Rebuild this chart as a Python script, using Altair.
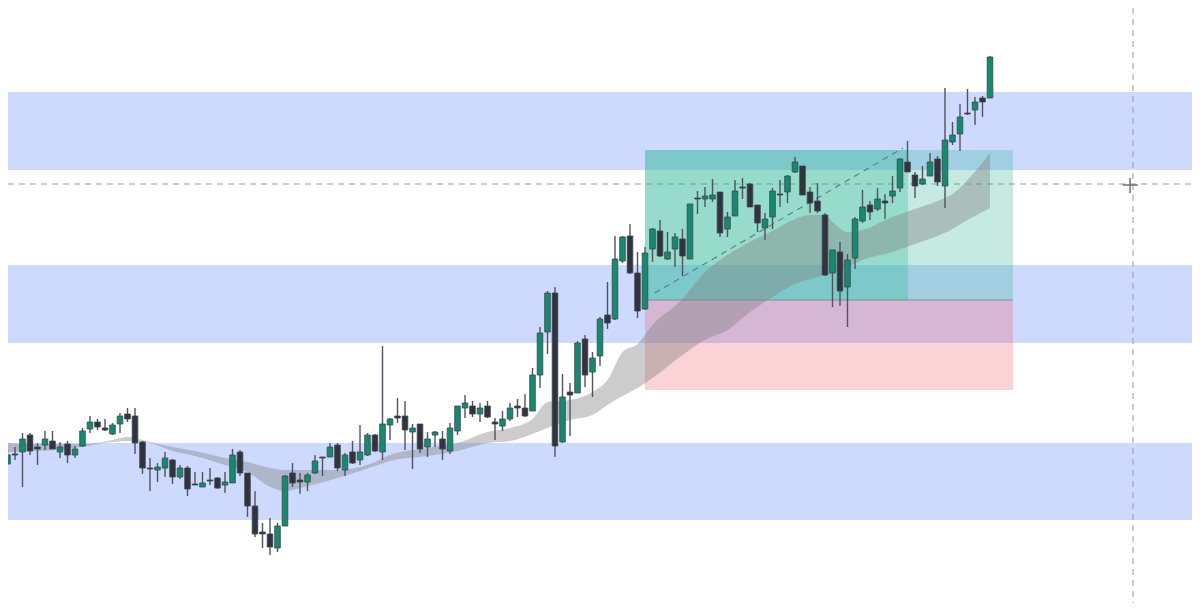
import pandas as pd
import altair as alt

candle_dir = [
    "g", "g", "k", "g", "k", "k", "g", "k", "g", "k",
    "g", "g", "g", "k", "k", "g", "g", "k", "k", "k",
    "k", "g", "g", "k", "g", "k", "k", "g", "k", "k",
    "g", "g", "k", "k", "k", "k", "k", "g", "g", "k",
    "k", "g", "g", "k", "g", "k", "g", "k", "g", "g",
    "k", "g", "g", "k", "k", "g", "k", "g", "g", "k",
    "g", "g", "g", "k", "g", "k", "k", "g", "g", "k",
    "k", "g", "g", "g", "k", "g", "k", "g", "k", "g",
    "g", "k", "g", "g", "k", "k", "g", "g", "k", "g",
    "g", "k", "g", "k", "g", "g", "k", "g", "g", "k",
    "k", "k", "g", "g", "k", "g", "g", "k", "k", "k",
    "k", "g", "k", "g", "g", "g", "k", "g", "k", "g",
    "g", "k", "k", "g", "g", "k", "g", "g", "g", "k",
    "g", "k", "g",
]
body_top = [
    465, 455, 454, 439, 435, 447, 439, 441, 447, 444,
    449, 431, 422, 422, 428, 425, 416, 414, 416, 442,
    468, 467, 458, 460, 468, 468, 484, 483, 480, 478,
    482, 455, 452, 473, 506, 532, 534, 526, 476, 473,
    480, 475, 461, 457, 447, 445, 455, 452, 452, 435,
    435, 424, 419, 416, 416, 428, 424, 439, 432, 439,
    428, 406, 403, 406, 408, 406, 422, 419, 408, 406,
    408, 375, 333, 293, 293, 397, 392, 343, 339, 358,
    319, 315, 259, 237, 236, 273, 253, 229, 231, 252,
    237, 239, 204, 198, 196, 195, 192, 217, 191, 187,
    184, 205, 219, 191, 194, 176, 162, 166, 192, 201,
    215, 250, 252, 260, 219, 207, 205, 199, 201, 191,
    159, 162, 175, 179, 162, 159, 140, 135, 117, 113,
    102, 98, 57,
]
body_bot = [
    470, 464, 455, 452, 451, 449, 445, 449, 452, 455,
    455, 446, 429, 427, 430, 434, 424, 419, 443, 468,
    469, 470, 468, 477, 477, 489, 485, 487, 481, 488,
    485, 483, 473, 506, 534, 534, 547, 548, 526, 483,
    482, 482, 473, 458, 457, 468, 470, 463, 460, 455,
    451, 452, 425, 418, 430, 432, 449, 447, 435, 449,
    451, 431, 408, 414, 414, 417, 424, 426, 419, 408,
    416, 411, 375, 332, 446, 442, 395, 393, 375, 372,
    356, 323, 319, 261, 273, 311, 309, 249, 256, 259,
    249, 256, 259, 199, 199, 199, 233, 229, 216, 188,
    207, 223, 228, 217, 195, 192, 172, 195, 203, 211,
    275, 273, 291, 287, 258, 221, 212, 209, 203, 196,
    188, 172, 186, 184, 176, 182, 186, 142, 134, 114,
    110, 102, 98,
]
wick_high = [
    462, 451, 447, 433, 433, 443, 431, 431, 442, 441,
    446, 428, 416, 419, 419, 423, 413, 408, 408, 441,
    458, 463, 452, 459, 465, 466, 472, 472, 468, 477,
    472, 449, 450, 473, 491, 523, 518, 523, 475, 463,
    473, 473, 455, 457, 443, 443, 453, 441, 425, 433,
    434, 346, 418, 398, 401, 424, 424, 432, 431, 431,
    423, 406, 395, 401, 403, 401, 418, 411, 403, 399,
    394, 368, 327, 291, 287, 374, 383, 341, 335, 352,
    317, 282, 236, 236, 224, 252, 247, 228, 220, 232,
    233, 229, 204, 191, 187, 179, 192, 212, 180, 178,
    183, 205, 213, 188, 180, 175, 157, 166, 187, 183,
    213, 250, 242, 254, 217, 190, 201, 188, 194, 176,
    158, 141, 172, 166, 153, 156, 88, 122, 104, 89,
    97, 96, 56,
]
wick_low = [
    472, 464, 460, 487, 455, 465, 450, 449, 458, 463,
    458, 447, 433, 430, 431, 435, 433, 422, 454, 474,
    491, 482, 477, 484, 479, 496, 485, 487, 485, 489,
    493, 483, 476, 517, 537, 548, 555, 552, 526, 487,
    494, 491, 474, 476, 457, 471, 476, 464, 465, 456,
    452, 460, 440, 423, 450, 469, 453, 457, 447, 460,
    454, 435, 418, 417, 422, 418, 440, 431, 421, 417,
    417, 411, 388, 354, 457, 443, 436, 393, 387, 397,
    366, 329, 320, 263, 274, 318, 310, 262, 257, 260,
    267, 276, 259, 214, 207, 202, 237, 237, 216, 199,
    207, 232, 240, 229, 207, 203, 173, 195, 213, 213,
    276, 307, 306, 327, 269, 223, 220, 211, 219, 203,
    192, 172, 198, 185, 176, 186, 208, 145, 151, 115,
    125, 117, 98,
]

ribbon_bar = [0, 5, 11, 13, 15, 17, 19, 20, 23, 26, 30, 33, 36, 38, 40, 45, 50, 52, 57, 61, 65, 68, 71, 73, 76, 79, 81, 83, 85, 87, 91, 94, 97, 100, 103, 106, 108, 110, 111, 113, 115, 119, 122, 125, 127, 129, 132]
ribbon_top = [443, 444, 444, 443, 440, 437, 440, 442, 447, 451, 458, 462, 468, 470, 470, 470, 462, 455, 448, 443, 432, 428, 419, 402, 400, 392, 380, 352, 344, 325, 299, 272, 255, 242, 231, 219, 215, 215, 222, 232, 230, 217, 209, 201, 194, 180, 153]
ribbon_bot = [452, 451, 447, 444, 442, 441, 442, 443, 451, 456, 465, 472, 487, 491, 488, 478, 466, 461, 456, 451, 443, 441, 434, 428, 420, 415, 405, 396, 388, 378, 355, 340, 330, 312, 297, 284, 279, 275, 273, 267, 260, 252, 244, 236, 229, 220, 208]

band_top = [92, 265, 443]
band_bot = [170, 343, 520]

candles = pd.DataFrame({
    "bar": list(range(len(body_top))), "top": body_top, "bot": body_bot,
    "high": wick_high, "low": wick_low, "dir": candle_dir,
})
ribbon = pd.DataFrame({"bar": ribbon_bar, "top": ribbon_top, "bot": ribbon_bot})
bands = pd.DataFrame({"x0": 1.07, "x1": 158.93, "top": band_top, "bot": band_bot})

# plot area sits 13px in from the page edge, the bands run out into the padding
xs = alt.Scale(domain=[1.7333, 158.2667], padding=0)
ys = alt.Scale(domain=[598, 13])


def box(df, color, opacity=1.0):
    return alt.Chart(pd.DataFrame(df)).mark_rect(color=color, opacity=opacity).encode(
        x=alt.X("x0:Q", scale=xs, axis=None), x2="x1:Q",
        y=alt.Y("top:Q", scale=ys, axis=None), y2="bot:Q",
    )


def seg(x0, x1, y0, y1, color, width=1.0, dash=None):
    line = pd.DataFrame({"bar": [x0, x1], "lvl": [y0, y1]})
    mark = {"color": color, "strokeWidth": width}
    if dash:
        mark["strokeDash"] = dash
    return alt.Chart(line).mark_line(**mark).encode(
        x=alt.X("bar:Q", scale=xs, axis=None),
        y=alt.Y("lvl:Q", scale=ys, axis=None),
    )


band_layer = box(bands, "#cddafe")
reward = box({"x0": [86], "x1": [135.07], "top": [150], "bot": [300]}, "#2cb094", 0.27)
reward_dark = box({"x0": [86], "x1": [121.07], "top": [150], "bot": [300]}, "#2ab892", 0.3)
risk = box({"x0": [86], "x1": [135.07], "top": [300], "bot": [390]}, "#f0505a", 0.25)

ribbon_layer = alt.Chart(ribbon).mark_area(color="#808080", opacity=0.4, interpolate="monotone").encode(
    x=alt.X("bar:Q", scale=xs, axis=None),
    y=alt.Y("top:Q", scale=ys, axis=None), y2="bot:Q",
)

wicks = alt.Chart(candles).mark_rule(color="#50535f", strokeWidth=1.4).encode(
    x=alt.X("bar:Q", scale=xs, axis=None),
    y=alt.Y("high:Q", scale=ys, axis=None), y2="low:Q",
)
bodies = alt.Chart(candles).mark_bar(size=5.6, stroke="#3a4650", strokeWidth=0.8).encode(
    x=alt.X("bar:Q", scale=xs, axis=None),
    y=alt.Y("top:Q", scale=ys, axis=None), y2="bot:Q",
    color=alt.Color("dir:N", scale=alt.Scale(domain=["g", "k"], range=["#16896e", "#33333f"]), legend=None),
)

chart = alt.layer(
    band_layer,
    seg(1.07, 158.93, 184, 184, "#9a9a9a", dash=[6, 5]),
    seg(151.07, 151.07, 8, 603, "#9a9a9a", dash=[6, 5]),
    reward, reward_dark, risk,
    seg(86, 135.07, 300, 300, "#808e96", 1.2),
    ribbon_layer,
    seg(87.3, 120.4, 293, 148, "#4f7f86", 1.1, dash=[6, 5]),
    wicks, bodies,
    seg(149.7, 151.7, 185, 185, "#777777", 1.6),
    seg(150.67, 150.67, 178, 193, "#777777", 1.6),
).properties(
    width=1174, height=585,
    autosize=alt.AutoSizeParams(type="none"),
).configure_view(stroke=None)

chart.save("out.html", embed_options={"renderer": "svg", "actions": False})
